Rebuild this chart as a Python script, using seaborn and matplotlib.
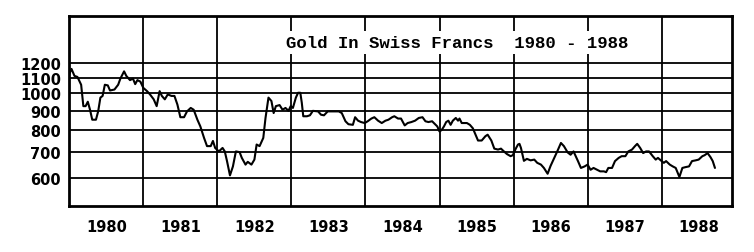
import matplotlib
matplotlib.use("Agg")
import matplotlib.pyplot as plt
import seaborn as sns
import pandas as pd
from matplotlib.ticker import NullLocator, FixedLocator, FixedFormatter

# decimal year of each reading
years = [
    1980.00, 1980.03, 1980.07, 1980.11, 1980.14, 1980.16, 1980.19, 1980.22, 1980.25, 1980.28,
    1980.31, 1980.36, 1980.39, 1980.42, 1980.45, 1980.48, 1980.52, 1980.55, 1980.61, 1980.66,
    1980.69, 1980.74, 1980.77, 1980.82, 1980.86, 1980.89, 1980.92, 1980.96,
    1981.00, 1981.05, 1981.09, 1981.14, 1981.18, 1981.22, 1981.25, 1981.29, 1981.33, 1981.38,
    1981.42, 1981.46, 1981.50, 1981.55, 1981.59, 1981.64, 1981.68, 1981.73, 1981.77, 1981.82,
    1981.86, 1981.91, 1981.94, 1981.97,
    1982.02, 1982.07, 1982.10, 1982.13, 1982.17, 1982.21, 1982.25, 1982.30, 1982.33, 1982.38,
    1982.41, 1982.46, 1982.50, 1982.53, 1982.57, 1982.62, 1982.65, 1982.69, 1982.73, 1982.76,
    1982.79, 1982.84, 1982.88, 1982.92, 1982.96, 1982.99,
    1983.02, 1983.06, 1983.09, 1983.12, 1983.14, 1983.16, 1983.21, 1983.25, 1983.29, 1983.36,
    1983.40, 1983.44, 1983.49, 1983.53, 1983.64, 1983.68, 1983.73, 1983.77, 1983.83, 1983.86,
    1983.90, 1983.94, 1983.99,
    1984.03, 1984.08, 1984.12, 1984.17, 1984.22, 1984.27, 1984.31, 1984.36, 1984.39, 1984.44,
    1984.48, 1984.53, 1984.57, 1984.62, 1984.67, 1984.72, 1984.77, 1984.81, 1984.85, 1984.90,
    1984.94, 1984.97,
    1985.00, 1985.03, 1985.06, 1985.09, 1985.12, 1985.15, 1985.18, 1985.22, 1985.25, 1985.27,
    1985.30, 1985.37, 1985.41, 1985.45, 1985.49, 1985.52, 1985.57, 1985.62, 1985.65, 1985.70,
    1985.74, 1985.79, 1985.83, 1985.87, 1985.91, 1985.96, 1985.99,
    1986.03, 1986.06, 1986.08, 1986.10, 1986.14, 1986.18, 1986.23, 1986.28, 1986.32, 1986.37,
    1986.41, 1986.46, 1986.50, 1986.55, 1986.59, 1986.64, 1986.68, 1986.73, 1986.77, 1986.81,
    1986.84, 1986.87, 1986.91, 1986.96,
    1987.00, 1987.04, 1987.08, 1987.13, 1987.17, 1987.22, 1987.25, 1987.28, 1987.33, 1987.37,
    1987.42, 1987.46, 1987.51, 1987.55, 1987.60, 1987.64, 1987.67, 1987.71, 1987.75, 1987.79,
    1987.83, 1987.88, 1987.92, 1987.95,
    1988.00, 1988.03, 1988.06, 1988.11, 1988.15, 1988.19, 1988.24, 1988.28, 1988.32, 1988.37,
    1988.41, 1988.46, 1988.50, 1988.55, 1988.58, 1988.62, 1988.66, 1988.69, 1988.72,
]

# gold price in Swiss francs per ounce
prices = [
    1125, 1160, 1112, 1105, 1074, 1054, 926, 926, 951, 906,
    853, 853, 897, 975, 985, 1054, 1050, 1018, 1024, 1054,
    1094, 1143, 1112, 1084, 1094, 1058, 1084, 1074,
    1034, 1014, 994, 965, 926, 1014, 985, 965, 994, 985,
    985, 935, 866, 866, 897, 916, 906, 853, 819, 764,
    727, 727, 750, 719,
    704, 719, 704, 664, 609, 643, 704, 701, 677, 650,
    661, 650, 670, 734, 727, 764, 862, 975, 955, 888,
    926, 932, 906, 916, 900, 926,
    916, 975, 1004, 1004, 945, 871, 871, 876, 900, 897,
    879, 876, 897, 897, 897, 888, 845, 830, 827, 866,
    848, 841, 836,
    845, 859, 866, 848, 836, 848, 853, 866, 871, 859,
    859, 824, 836, 841, 848, 862, 866, 845, 841, 845,
    830, 819,
    794, 802, 819, 841, 848, 827, 848, 862, 848, 859,
    836, 836, 827, 810, 776, 752, 752, 772, 779, 752,
    716, 712, 716, 704, 693, 684, 688,
    716, 734, 737, 719, 665, 673, 667, 670, 657, 650,
    637, 615, 645, 677, 704, 741, 727, 700, 690, 704,
    684, 664, 637, 643,
    650, 630, 637, 630, 624, 624, 621, 637, 637, 664,
    677, 684, 684, 704, 712, 727, 737, 719, 697, 704,
    704, 684, 670, 677,
    664, 657, 664, 650, 643, 637, 603, 637, 640, 643,
    664, 667, 670, 684, 688, 697, 680, 664, 637,
]

y_ticks = [600, 700, 800, 900, 1000, 1100, 1200]
y_tick_labels = ["600", "700", "800", "900", "1000", "1100", "1200"]
year_labels = ["1980", "1981", "1982", "1983", "1984", "1985", "1986", "1987", "1988"]
title_text = "Gold In Swiss Francs  1980 - 1988"

df = pd.DataFrame({"year": years, "price": prices})

sns.set_style("white")
plt.rcParams["font.family"] = ["DejaVu Sans"]

fig = plt.figure(figsize=(7.54, 2.53), dpi=100)
ax = fig.add_axes([0.0919, 0.1806, 0.9708 - 0.0919, 0.9316 - 0.1806])

sns.lineplot(data=df, x="year", y="price", color="black", linewidth=1.5,
             estimator=None, sort=True, ax=ax, zorder=3)

ax.set_yscale("log")
ax.set_ylim(505, 1595)
ax.set_xlim(1980, 1988.95)

ax.yaxis.set_major_locator(FixedLocator(y_ticks))
ax.yaxis.set_major_formatter(FixedFormatter(y_tick_labels))
ax.yaxis.set_minor_locator(NullLocator())

centers = [1980.5 + i for i in range(len(year_labels))]
ax.xaxis.set_major_locator(FixedLocator(centers))
ax.xaxis.set_major_formatter(FixedFormatter(year_labels))
ax.xaxis.set_minor_locator(FixedLocator(list(range(1981, 1989))))

ax.tick_params(axis="both", which="both", length=0)
ax.tick_params(axis="y", pad=6, labelsize=10.5)
ax.tick_params(axis="x", pad=9, labelsize=10.5)
for lab in ax.get_xticklabels() + ax.get_yticklabels():
    lab.set_fontweight("bold")
    lab.set_color("black")

ax.grid(False)
ax.grid(True, axis="y", which="major", color="black", linewidth=1.3)
ax.grid(True, axis="x", which="minor", color="black", linewidth=1.3)

for sp in ax.spines.values():
    sp.set_visible(True)
    sp.set_color("black")
    sp.set_linewidth(2.0)

ax.set_xlabel("")
ax.set_ylabel("")

ax.text(1982.93, 1360, title_text, family="Liberation Mono", fontsize=12.5,
        fontweight="bold", ha="left", va="center", color="black", zorder=4,
        bbox=dict(facecolor="white", edgecolor="none", pad=3))

fig.savefig("out.png", dpi=100)
